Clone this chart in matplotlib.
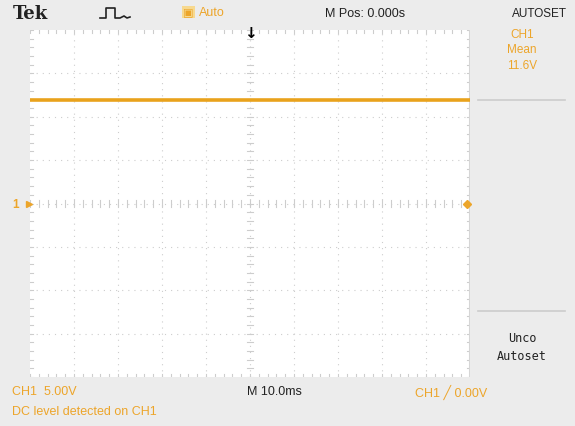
import matplotlib.pyplot as plt
from matplotlib.lines import Line2D
import numpy as np

# scope settings
time_div_ms = 10.0      # M 10.0ms
volt_div = 5.0          # CH1 5.00V
n_xdiv = 10
n_ydiv = 8

# CH1 trace (DC level)
trace_t = [-50.0, 50.0]
trace_v = [11.9, 11.9]

mean_label = "11.6V"
trig_level = 0.0

ORANGE = '#eca52a'
TRACE = '#e9a21c'
BG = '#ececec'
GRID = '#cdcdcd'

W, H = 575, 427
fig = plt.figure(figsize=(W / 100, H / 100), dpi=100, facecolor=BG)
plt.rcParams['font.family'] = ['Liberation Sans', 'DejaVu Sans']

def px(x, y):
    return x / W, 1 - y / H

# graticule
x0, x1, y0, y1 = 30, 470, 31, 378
ax = fig.add_axes([x0 / W, 1 - y1 / H, (x1 - x0) / W, (y1 - y0) / H])
ax.set_facecolor('white')
xmax = n_xdiv / 2 * time_div_ms
ymax = n_ydiv / 2 * volt_div
ax.set_xlim(-xmax, xmax)
ax.set_ylim(-ymax, ymax)
ax.set_xticks([])
ax.set_yticks([])
for s in ax.spines.values():
    s.set_visible(False)

for i in range(1, n_xdiv):
    xv = -xmax + i * time_div_ms
    ax.axvline(xv, color=GRID, lw=0.8, ls=(0, (1, 4.5)), zorder=1)
for i in range(1, n_ydiv):
    yv = -ymax + i * volt_div
    ax.axhline(yv, color=GRID, lw=0.8, ls=(0, (1, 4.5)), zorder=1)

# minor ticks along center lines and edges
mx = np.arange(-xmax, xmax + 0.01, time_div_ms / 5)
my = np.arange(-ymax, ymax + 0.01, volt_div / 5)
tl_x = volt_div * 0.07
tl_y = time_div_ms * 0.07
for xv in mx:
    ax.plot([xv, xv], [-tl_x, tl_x], color=GRID, lw=0.8, zorder=1)
    ax.plot([xv, xv], [ymax, ymax - tl_x], color=GRID, lw=0.8, zorder=1)
    ax.plot([xv, xv], [-ymax, -ymax + tl_x], color=GRID, lw=0.8, zorder=1)
for yv in my:
    ax.plot([-tl_y, tl_y], [yv, yv], color=GRID, lw=0.8, zorder=1)
    ax.plot([-xmax, -xmax + tl_y], [yv, yv], color=GRID, lw=0.8, zorder=1)
    ax.plot([xmax, xmax - tl_y], [yv, yv], color=GRID, lw=0.8, zorder=1)
ax.axvline(xmax, color='#d6d6d6', lw=1.5, zorder=1)

# trace
ax.plot(trace_t, trace_v, color=TRACE, lw=2.6, solid_capstyle='butt', zorder=3)

# trigger level marker on right edge
ax.plot([xmax - 0.6], [trig_level], marker='D', ms=4, color=ORANGE,
        clip_on=False, zorder=4)

# left ground marker "1"
fig.text(*px(12, 205), '1', color=ORANGE, fontsize=8.5, fontweight='bold',
         va='center', ha='left')
ax.plot([-xmax - 0.2], [0], marker='>', ms=4.5, color=ORANGE, clip_on=False)

# top bar
fig.text(*px(13, 14), 'Tek', fontsize=13, fontweight='bold',
         family='DejaVu Serif', va='center', ha='left', color='#222222')
pulse_x = [100, 106, 106, 115, 115, 120, 124, 127, 130]
pulse_y = [19, 19, 9, 9, 19, 19, 17, 19, 18]
fig.add_artist(Line2D([x / W for x in pulse_x], [1 - y / H for y in pulse_y],
                      color='#222222', lw=1.2))
fig.text(*px(183, 13), '\u25a3', color=ORANGE, fontsize=8, va='center', ha='left',
         bbox=dict(boxstyle='square,pad=0.1', fc='#f7d98f', ec='none'),
         family='DejaVu Sans')
fig.text(*px(199, 13), 'Auto', color=ORANGE, fontsize=9, va='center', ha='left')
fig.text(*px(250, 33), '\u2193', color='black', fontsize=11, fontweight='bold',
         va='center', ha='center', family='DejaVu Sans')
fig.text(*px(325, 14), 'M Pos: 0.000s', color='#222222', fontsize=9,
         va='center', ha='left')
fig.text(*px(539, 14), 'AUTOSET', color='#222222', fontsize=8.5,
         va='center', ha='center')

# right menu
fig.text(*px(522, 35), 'CH1', color=ORANGE, fontsize=8.5, va='center', ha='center')
fig.text(*px(522, 50), 'Mean', color=ORANGE, fontsize=8.5, va='center', ha='center')
fig.text(*px(522, 66), mean_label, color=ORANGE, fontsize=8.5, va='center', ha='center')
fig.add_artist(Line2D([478 / W, 565 / W], [1 - 101 / H] * 2, color='#cccccc', lw=1.2))
fig.add_artist(Line2D([478 / W, 565 / W], [1 - 312 / H] * 2, color='#cccccc', lw=1.2))
fig.text(*px(522, 339), 'Unco', color='#222222', fontsize=8.5,
         va='center', ha='center', family='DejaVu Sans Mono')
fig.text(*px(522, 357), 'Autoset', color='#222222', fontsize=8.5,
         va='center', ha='center', family='DejaVu Sans Mono')

# bottom readouts
fig.text(*px(12, 392), 'CH1  %.2fV' % volt_div, color=ORANGE, fontsize=9,
         va='center', ha='left')
fig.text(*px(247, 392), 'M %.1fms' % time_div_ms, color='#222222', fontsize=9,
         va='center', ha='left')
fig.text(*px(415, 392), 'CH1 \u2571 %.2fV' % trig_level, color=ORANGE, fontsize=9,
         va='center', ha='left', family=['Liberation Sans', 'DejaVu Sans'])
fig.text(*px(12, 412), 'DC level detected on CH1', color=ORANGE, fontsize=9,
         va='center', ha='left')

fig.savefig('out.png', dpi=100, facecolor=BG)
